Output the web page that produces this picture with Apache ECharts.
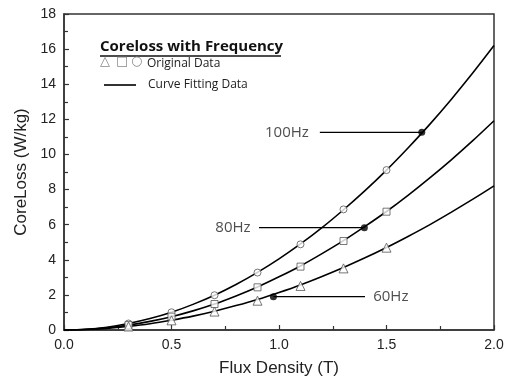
<!DOCTYPE html>
<html><head><meta charset="utf-8">
<script src="https://cdn.jsdelivr.net/npm/echarts@6/dist/echarts.min.js"></script>
<style>html,body{margin:0;padding:0;background:#fff}#c{width:509px;height:383px}</style>
</head><body><div id="c"></div>
<script>
// Measured (original) data points
const measB = [0.3, 0.5, 0.7, 0.9, 1.1, 1.3, 1.5];
const meas100 = [0.37, 1.01, 1.98, 3.27, 4.88, 6.87, 9.11];
const meas80 = [0.28, 0.76, 1.48, 2.43, 3.61, 5.07, 6.74];
const meas60 = [0.2, 0.55, 1.05, 1.67, 2.51, 3.51, 4.69];
// Curve fitting data
const fitB = [0, 0.1, 0.2, 0.3, 0.4, 0.5, 0.6, 0.7, 0.8, 0.9, 1.0, 1.1, 1.2, 1.3, 1.4, 1.5, 1.6, 1.7, 1.8, 1.9, 2.0];
const fit100 = [0, 0.04, 0.16, 0.37, 0.65, 1.01, 1.46, 1.98, 2.59, 3.28, 4.05, 4.9, 5.83, 6.85, 7.94, 9.11, 10.37, 11.7, 13.12, 14.62, 16.2];
const fit80 = [0, 0.03, 0.13, 0.28, 0.49, 0.76, 1.09, 1.48, 1.94, 2.45, 3.03, 3.65, 4.35, 5.09, 5.9, 6.75, 7.67, 8.65, 9.68, 10.77, 11.92];
const fit60 = [0, 0.025, 0.094, 0.21, 0.36, 0.56, 0.79, 1.07, 1.39, 1.74, 2.14, 2.57, 3.05, 3.56, 4.11, 4.7, 5.33, 5.99, 6.7, 7.44, 8.21];
// Annotations: label, dot point, line other end, label position
const annNames = ['100Hz', '80Hz', '60Hz'];
const annDotB = [1.664, 1.397, 0.974];
const annDotP = [11.26, 5.83, 1.9];
const annEndB = [1.19, 0.907, 1.40];
const annLabelB = [1.037, 0.786, 1.52];
const xTicks = ['0.0', '0.5', '1.0', '1.5', '2.0'];

const axisFont = 'Liberation Sans, Arial, sans-serif';
const annFont = 'Open Sans, Noto Sans, sans-serif';

const zip = (xs, ys) => xs.map((x, i) => [x, ys[i]]);

const series = [];
[[fit100], [fit80], [fit60]].forEach(([f]) => {
  series.push({type: 'line', data: zip(fitB, f), smooth: 0.3, showSymbol: false, silent: true,
    lineStyle: {color: '#000', width: 1.6}, z: 2});
});
[[meas100, 'circle'], [meas80, 'rect'], [meas60, 'triangle']].forEach(([m, sym]) => {
  series.push({type: 'scatter', data: zip(measB, m), symbol: sym, symbolSize: sym === 'triangle' ? 9 : 7,
    itemStyle: {color: '#fff', borderColor: '#555', borderWidth: 1}, z: 5});
});
annNames.forEach((n, i) => {
  series.push({type: 'line', data: [[annEndB[i], annDotP[i]], [annDotB[i], annDotP[i]]], showSymbol: false,
    lineStyle: {color: '#000', width: 1.3}, z: 3});
  series.push({type: 'scatter', data: [[annDotB[i], annDotP[i]]], symbol: 'circle', symbolSize: 7,
    itemStyle: {color: '#000'}, z: 6});
  series.push({type: 'scatter', data: [[annLabelB[i], annDotP[i]]], symbolSize: 0,
    label: {show: true, position: 'inside', formatter: n, color: '#222', fontSize: 15, fontFamily: annFont}, z: 6});
});

const chart = echarts.init(document.getElementById('c'));
const symFont = '13px DejaVu Sans, sans-serif';
const T = (x, y, text, font, fill) => ({type: 'text', x: x, y: y,
  style: {text: text, font: font, fill: fill, align: 'left', verticalAlign: 'middle'}});
chart.setOption({
  animation: false,
  backgroundColor: '#fff',
  grid: {left: 64, top: 14, right: 15, bottom: 53, show: true, borderColor: '#333', borderWidth: 1.5, backgroundColor: 'transparent'},
  xAxis: {type: 'value', min: 0, max: 2, interval: 0.5,
    name: 'Flux Density (T)', nameLocation: 'middle', nameGap: 30,
    nameTextStyle: {fontSize: 17, color: '#222', fontFamily: axisFont},
    axisLine: {lineStyle: {color: '#333', width: 1.5}},
    axisTick: {inside: true, length: 5, lineStyle: {color: '#333', width: 1.2}},
    minorTick: {show: true, splitNumber: 2, length: 4, lineStyle: {color: '#333', width: 1.2}},
    splitLine: {show: false},
    axisLabel: {fontSize: 14, color: '#222', fontFamily: axisFont, margin: 8,
      formatter: v => xTicks[Math.round(v / 0.5)]}
  },
  yAxis: {type: 'value', min: 0, max: 18, interval: 2,
    name: 'CoreLoss (W/kg)', nameLocation: 'middle', nameGap: 32,
    nameTextStyle: {fontSize: 17, color: '#222', fontFamily: axisFont},
    axisLine: {show: true, lineStyle: {color: '#333', width: 1.5}},
    axisTick: {inside: true, length: 5, lineStyle: {color: '#333', width: 1.2}},
    minorTick: {show: true, splitNumber: 2, length: 4, lineStyle: {color: '#333', width: 1.2}},
    splitLine: {show: false},
    axisLabel: {fontSize: 14, color: '#222', fontFamily: axisFont, margin: 8}
  },
  graphic: [
    T(100, 47, 'Coreloss with Frequency', 'bold 15px ' + annFont, '#111'),
    {type: 'line', shape: {x1: 100, y1: 56, x2: 281, y2: 56}, style: {stroke: '#111', lineWidth: 1.3}},
    T(100, 62, '\u25B3', symFont, '#888'),
    T(116, 62, '\u25A1', symFont, '#888'),
    T(131, 62, '\u25CB', symFont, '#888'),
    T(147, 64, 'Original Data', '12px ' + annFont, '#222'),
    {type: 'line', shape: {x1: 104, y1: 85, x2: 136, y2: 85}, style: {stroke: '#000', lineWidth: 1.6}},
    T(148, 85, 'Curve Fitting Data', '12px ' + annFont, '#222')
  ],
  series: series
});
</script></body></html>
